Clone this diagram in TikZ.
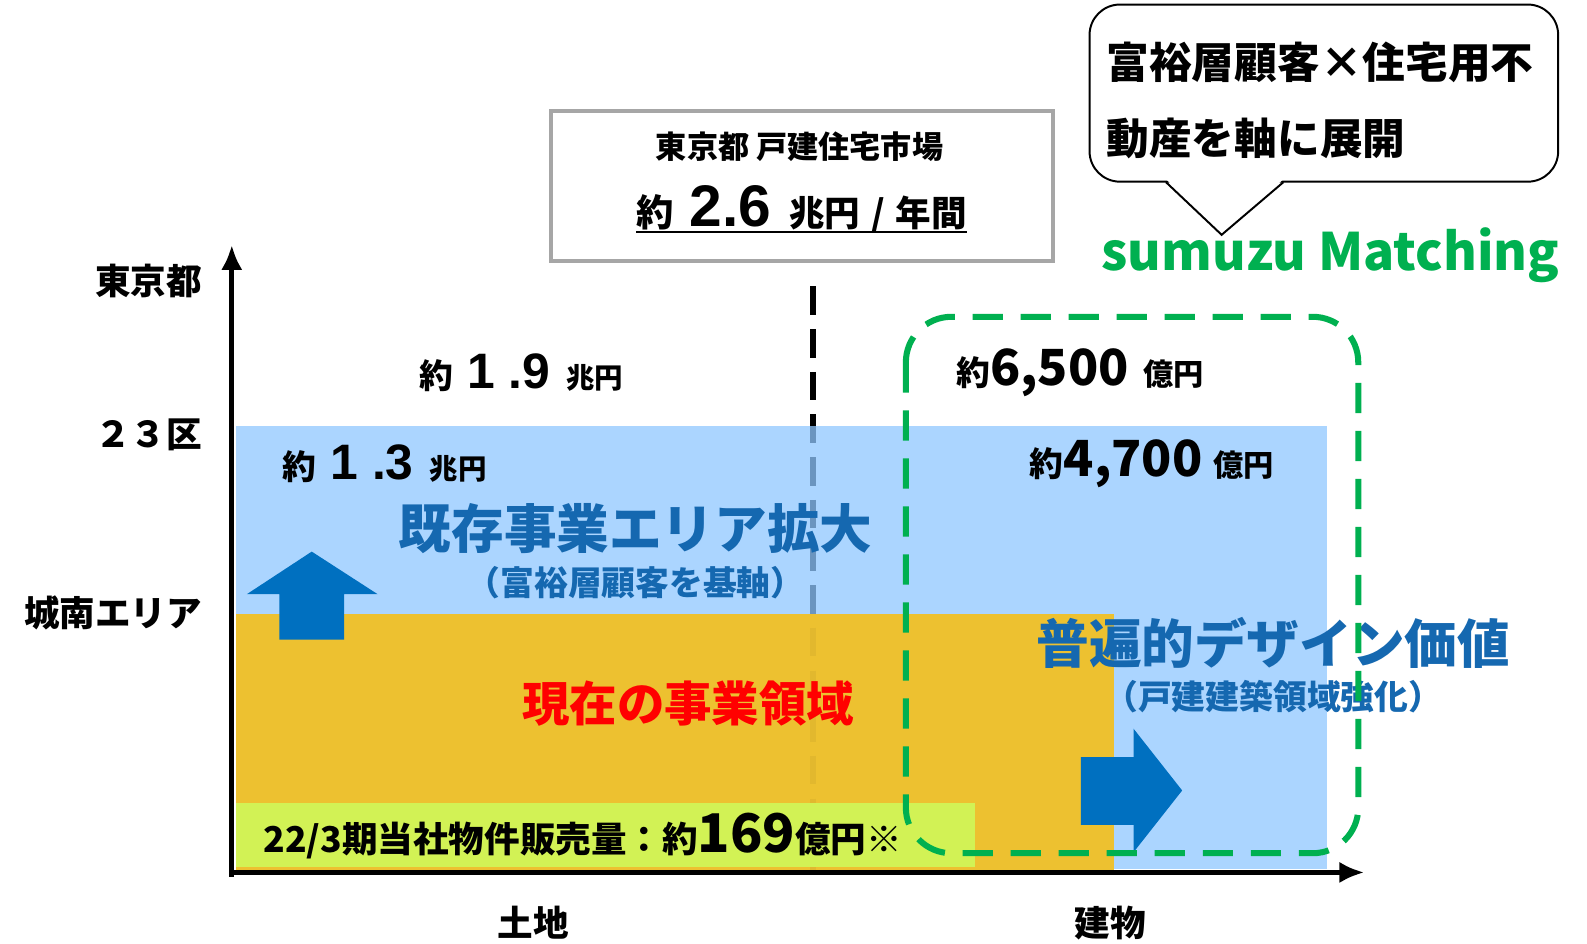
\documentclass[tikz,border=0pt]{standalone}
\usepackage{fontspec}
\setmainfont{Noto Sans CJK JP}
\newfontfamily\numfont{Liberation Sans}
\usetikzlibrary{positioning}
\usetikzlibrary{arrows.meta}

\definecolor{areablue}{RGB}{143,199,255}
\definecolor{areaorange}{RGB}{237,193,48}
\definecolor{dashorange}{RGB}{226,184,46}
\definecolor{areagreen}{RGB}{210,242,85}
\definecolor{arrowblue}{RGB}{0,112,192}
\definecolor{textblue}{RGB}{21,104,176}
\definecolor{matchgreen}{RGB}{0,176,80}
\definecolor{boxgray}{RGB}{166,166,166}

\newcommand{\fsz}[1]{\fontsize{#1}{#1}\selectfont}
\newcommand{\gap}[1]{\hspace{#1pt}}

\tikzset{
  lbl/.style={inner sep=0pt, font=\bfseries},
  axislbl/.style={lbl, font=\bfseries\fsz{20}},
  bigblue/.style={lbl, text=textblue, font=\bfseries\fsz{29.6}},
  subblue/.style={lbl, text=textblue, font=\bfseries\fsz{19}},
  axisline/.style={line width=2.8pt, -{Latex[length=14pt,width=12pt]}},
  splitline/.style={line width=3.4pt, dash pattern=on 16pt off 8pt},
  blockarrow/.style={fill=arrowblue},
}

\begin{document}
\begin{tikzpicture}[x=0.02cm, y=-0.02cm]
  \useasboundingbox (0,0) rectangle (1568,932);

  % market split line
  \draw [splitline] (803,283) -- (803,866);

  % areas
  \fill [areablue, fill opacity=0.75] (233,421) rectangle (1311,859);
  \fill [areaorange] (233,607) rectangle (1101,861);
  \begin{scope}
    \clip (233,607) rectangle (1101,861);
    \draw [splitline, dashorange] (803,283) -- (803,866);
  \end{scope}
  \fill [areagreen] (233,793) rectangle (963,857);

  % axes
  \draw [axisline] (229,866) -- (229,242);
  \draw [axisline] (227,862) -- (1348,862);

  \node [axislbl, anchor=east] (tokyo) at (200,278) {東京都};
  \node [axislbl, anchor=east] (ku23) at (200,430) {２３区};
  \node [axislbl, anchor=east] (jonan) at (200,606) {城南エリア};
  \node [axislbl] (land) at (527,912) {土地};
  \node [axislbl] (bldg) at (1097,912) {建物};

  % market box
  \node [draw=boxgray, line width=2.3pt, minimum width=496*0.02cm, minimum height=148*0.02cm] (mktbox) at (792,184) {};
  \node [lbl, font=\bfseries\fsz{17.5}] (mkt1) at (790,145) {東京都 戸建住宅市場};
  \node [lbl] (mkt2) at (792,207) {{\fsz{21}約}\gap{9}{\numfont\fsz{33}2.6}\gap{10}{\fsz{20}兆円\gap{6}/\gap{6}年間}};
  \draw [line width=1.2pt] ([yshift=-3pt]mkt2.base west) -- ([yshift=-3pt]mkt2.base east);

  % values
  \node [lbl] (v19) at (515,368) {{\fsz{19}約}\gap{8}{\numfont\fsz{28}1 .9}\gap{9}{\fsz{16}兆円}};
  \node [lbl] (v13) at (380,458) {{\fsz{19}約}\gap{8}{\numfont\fsz{28}1 .3}\gap{9}{\fsz{16}兆円}};
  \node [lbl] (v6500) at (1067,368) {{\fsz{19}約}{\fsz{28}6,500}\gap{8}{\fsz{17}億円}};
  \node [lbl] (v4700) at (1138,458) {{\fsz{19}約}{\fsz{28}4,700}\gap{6}{\fsz{17}億円}};

  % block arrows
  \fill [blockarrow] (308,545) -- (373,587) -- (340,587) -- (340,632)
        -- (276,632) -- (276,587) -- (244,587) -- cycle;
  \fill [blockarrow] (1068,748) -- (1120,748) -- (1120,720) -- (1168,781)
        -- (1120,842) -- (1120,815) -- (1068,815) -- cycle;

  \node [bigblue] (expand) at (628,522) {既存事業エリア拡大};
  \node [subblue] (expandsub) at (628,576) {（富裕層顧客を基軸）};
  \node [lbl, text=red, font=\bfseries\fsz{26.7}] (current) at (680,695) {現在の事業領域};
  \node [bigblue] (design) at (1258,635) {普遍的デザイン価値};
  \node [subblue] (designsub) at (1258,688) {（戸建建築領域強化）};
  \node [lbl, anchor=west] (sales) at (260,826) {{\fsz{20}22/3期当社物件販売量：約}{\fsz{30}169}{\fsz{20}億円※}};

  % sumuzu Matching range
  \draw [matchgreen, line width=3.4pt, dash pattern=on 17pt off 10pt, rounded corners=45*0.02cm]
        (895,313) rectangle (1342,843);
  \node [lbl, text=matchgreen, font=\bfseries\fsz{29}, anchor=west] (sumuzu) at (1088,252) {sumuzu Matching};

  % callout
  \node [draw, line width=1.1pt, rounded corners=30*0.02cm, minimum width=463*0.02cm, minimum height=175*0.02cm] (callout) at (1308,92) {};
  \fill [white] (1153,178) -- (1207,232) -- (1267,178) -- cycle;
  \draw [line width=1.1pt] (1152,180) -- (1207,232) -- (1268,180);
  \node [lbl, font=\bfseries\fsz{24}, anchor=west] (call1) at (1093,62) {富裕層顧客×住宅用不};
  \node [lbl, font=\bfseries\fsz{24}, anchor=west] (call2) at (1093,137) {動産を軸に展開};
\end{tikzpicture}
\end{document}
